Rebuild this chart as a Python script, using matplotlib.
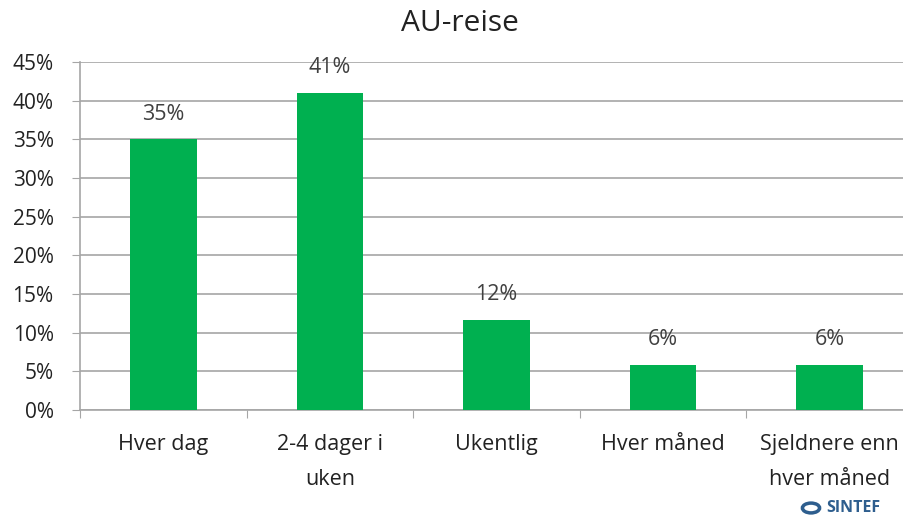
import matplotlib.pyplot as plt
import matplotlib
from matplotlib.patches import Circle

matplotlib.rcParams['font.family'] = ['Open Sans', 'DejaVu Sans']

# data
categories = ['Hver dag', '2-4 dager i\nuken', 'Ukentlig', 'Hver måned', 'Sjeldnere enn\nhver måned']
values = [35, 41, 11.7, 5.8, 5.8]
yticks = [0, 5, 10, 15, 20, 25, 30, 35, 40, 45]

fig = plt.figure(figsize=(9.04, 5.17), dpi=100)
ax = fig.add_axes([80 / 904, 107 / 517, 833 / 904, 348 / 517])

x = list(range(len(categories)))
ax.bar(x, values, width=0.4, color='#00B050', zorder=3)

# value labels
for xi, v in zip(x, values):
    ax.text(xi, v + 1.9, '{:.0f}%'.format(v), ha='center', va='bottom',
            fontsize=15.5, color='#404040')

ax.set_xlim(-0.5, len(categories) - 0.5)
ax.set_ylim(0, 45)
ax.set_yticks(yticks)
ax.set_yticklabels(['{}%'.format(t) for t in yticks], fontsize=15, color='#222222')
ax.yaxis.grid(True, color='#A6A6A6', linewidth=1.2, zorder=0)

# category labels between boundary ticks
ax.set_xticks([i + 0.5 for i in range(-1, len(categories))])
ax.set_xticklabels([])
ax.set_xticks(x, minor=True)
ax.set_xticklabels(categories, minor=True, fontsize=15.5, color='#222222', linespacing=1.85)
ax.tick_params(axis='x', which='minor', length=0, pad=17.5)
ax.tick_params(axis='x', which='major', length=6, color='#A6A6A6', direction='out')
ax.tick_params(axis='y', length=6, color='#A6A6A6', direction='out', pad=13)

for s in ['top', 'right']:
    ax.spines[s].set_visible(False)
ax.spines['left'].set_color('#A6A6A6')
ax.spines['bottom'].set_color('#A6A6A6')
ax.spines['left'].set_linewidth(1.2)
ax.spines['bottom'].set_linewidth(1.2)

fig.text(0.509, 0.955, 'AU-reise', ha='center', va='center', fontsize=21.5, color='#222222')

# SINTEF logo
fig.patches.append(Circle((811 / 904, 1 - 508 / 517), 0.0095, transform=fig.transFigure,
                          facecolor='white', edgecolor='#2E5E8E', linewidth=2.5))
fig.text(853 / 904, 1 - 508 / 517, 'SINTEF', ha='center', va='center', fontsize=11.5,
         fontweight='bold', color='#2E5E8E')

fig.savefig('out.png', dpi=100)
